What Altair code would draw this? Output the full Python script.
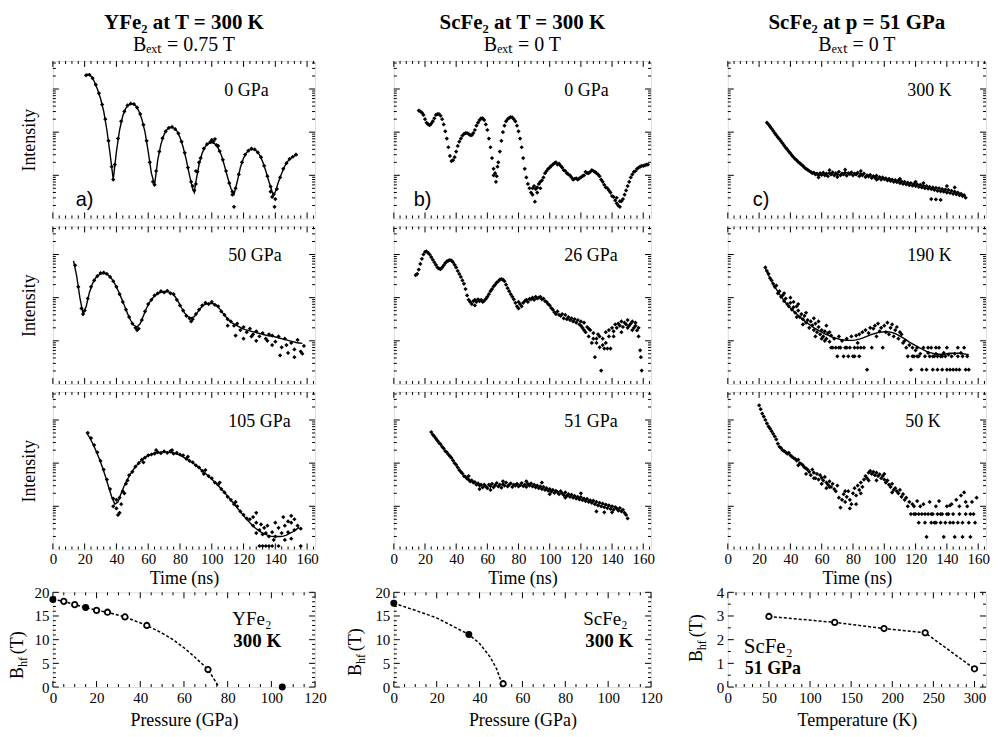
import math
import altair as alt
import pandas as pd

SERIF = "Liberation Serif"
TIMES = "Liberation Serif"
SANS = "Liberation Sans"

# ---------------- data: nuclear forward scattering spectra (log10 intensity, arb.) -------------
A0_DATA = [(21,3.32),(23,3.33),(25,3.25),(27,3.10),(29,2.90),(31,2.64),(33,2.30),(35,1.80),(37,1.20),(38,0.90),(39,1.25),
           (41,1.85),(43,2.25),(45,2.48),(47,2.62),(49,2.66),(51,2.65),(53,2.57),(55,2.42),(57,2.17),(59,1.80),(61,1.30),
           (63,0.85),(64,0.78),(65,1.10),(67,1.55),(69,1.86),(71,2.02),(73,2.10),(75,2.12),(77,2.07),(79,1.97),(81,1.78),
           (83,1.52),(85,1.18),(87,0.85),(89,0.65),(90,0.80),(91,1.08),(93,1.40),(95,1.62),(97,1.72),(99,1.77),(101,1.78),
           (103,1.70),(105,1.56),(107,1.36),(109,1.10),(111,0.82),(113,0.62),(114,0.27),(115,0.70),(117,1.02),(119,1.30),
           (121,1.48),(123,1.57),(125,1.62),(127,1.60),(129,1.53),(131,1.42),(133,1.22),(135,0.98),(137,0.74),(139,0.56),
           (139.5,0.27),(141,0.68),(143,0.95),(145,1.15),(147,1.28),(149,1.38),(151,1.43),(153,1.48),
           (100,1.82),(102,1.84),(104,1.68),(113,0.55),(138,0.50),(140,0.45),(137,0.62),(90,1.10),(92,1.30),(88,0.75)]
A0_FIT = [(20,3.30),(22,3.34),(24,3.30),(26,3.18),(28,3.00),(30,2.78),(32,2.48),(34,2.05),(36,1.50),(38,0.90),
          (40,1.55),(42,2.05),(44,2.38),(46,2.56),(48,2.64),(50,2.66),(52,2.62),(54,2.50),(56,2.30),(58,2.00),(60,1.55),
          (62,1.05),(64,0.78),(66,1.35),(68,1.72),(70,1.95),(72,2.07),(74,2.11),(76,2.10),(78,2.03),(80,1.88),(82,1.65),
          (84,1.35),(86,1.00),(88,0.68),(89,0.60),(90,0.85),(92,1.25),(94,1.52),(96,1.67),(98,1.74),(100,1.76),(102,1.73),
          (104,1.63),(106,1.47),(108,1.22),(110,0.95),(112,0.70),(114,0.56),(116,0.85),(118,1.18),(120,1.40),(122,1.53),
          (124,1.59),(126,1.60),(128,1.57),(130,1.48),(132,1.32),(134,1.10),(136,0.85),(138,0.62),(139,0.54),(140,0.62),
          (142,0.85),(144,1.05),(146,1.22),(148,1.33),(150,1.40),(152,1.45),(154,1.47)]

A50_DATA = [(14,2.75),(16,2.25),(18,1.75),(20,1.70),(22,1.98),(24,2.25),(26,2.40),(28,2.50),(30,2.57),(32,2.58),(34,2.55),
            (36,2.48),(38,2.38),(40,2.25),(42,2.08),(44,1.90),(46,1.72),(48,1.55),(50,1.40),(52,1.30),(54,1.28),(56,1.48),
            (58,1.68),(60,1.85),(62,1.95),(64,2.05),(66,2.10),(68,2.15),(70,2.12),(72,2.16),(74,2.10),(76,2.08),(78,1.95),
            (80,1.82),(82,1.70),(84,1.58),(86,1.52),(88,1.50),(90,1.62),(92,1.72),(94,1.82),(96,1.88),(98,1.85),(100,1.90),
            (102,1.83),(104,1.80),(106,1.68),(108,1.60),(110,1.50),(112,1.45),(114,1.35),(116,1.40),(118,1.25),(120,1.32),
            (122,1.20),(124,1.28),(126,1.15),(128,1.22),(130,1.10),(132,1.18),(134,1.05),(136,1.15),(138,1.12),(140,0.98),
            (142,1.10),(144,0.85),(146,1.05),(148,0.72),(150,0.95),(152,0.80),(154,1.02),(156,0.75),(158,0.88),
            (115,1.12),(120,1.05),(128,1.00),(138,0.90),(143,0.66),(152,0.62),(157,0.70),(110,1.35),(125,1.10),(135,1.00),
            (147,0.90),(19,1.62),(53,1.25),(87,1.45)]
A50_FIT = [(13,2.85),(15,2.50),(17,2.00),(19,1.62),(21,1.80),(23,2.12),(25,2.33),(27,2.46),(29,2.53),(31,2.56),(33,2.56),
           (35,2.52),(37,2.44),(39,2.32),(41,2.17),(43,2.00),(45,1.82),(47,1.63),(49,1.47),(51,1.36),(53,1.32),(55,1.40),
           (57,1.58),(59,1.76),(61,1.90),(63,2.00),(65,2.07),(67,2.11),(69,2.13),(71,2.14),(73,2.13),(75,2.10),(77,2.02),
           (79,1.90),(81,1.76),(83,1.64),(85,1.56),(87,1.53),(89,1.56),(91,1.66),(93,1.76),(95,1.83),(97,1.86),(99,1.87),
           (101,1.86),(103,1.82),(105,1.74),(107,1.64),(109,1.55),(111,1.47),(113,1.41),(115,1.37),(117,1.33),(119,1.29),
           (121,1.26),(123,1.24),(125,1.22),(127,1.20),(129,1.18),(131,1.16),(133,1.14),(135,1.12),(137,1.11),(139,1.10),
           (141,1.08),(143,1.06),(145,1.04),(147,1.02),(149,1.00),(151,0.98),(153,0.96),(155,0.95),(157,0.94)]

A105_DATA = [(22,2.70),(24,2.58),(26,2.42),(28,2.25),(30,2.05),(32,1.85),(34,1.62),(36,1.40),(38,1.18),(40,0.95),(42,0.85),
             (44,1.35),(46,1.52),(48,1.72),(50,1.80),(52,1.92),(54,2.00),(56,2.08),(58,2.13),(60,2.18),(62,2.20),(64,2.22),
             (66,2.25),(68,2.23),(70,2.27),(72,2.24),(74,2.28),(76,2.22),(78,2.24),(80,2.20),(82,2.18),(84,2.10),(86,2.05),
             (88,2.02),(90,1.95),(92,1.90),(94,1.82),(96,1.84),(98,1.70),(100,1.65),(102,1.55),(104,1.50),(106,1.40),
             (108,1.32),(110,1.22),(112,1.15),(114,1.05),(116,1.00),(118,0.88),(120,0.80),(122,0.72),(124,0.70),(126,0.55),
             (128,0.62),(130,0.45),(132,0.35),(134,0.38),(136,0.30),(138,0.40),(140,0.30),(142,0.50),(144,0.38),(146,0.55),
             (148,0.40),(150,0.62),(152,0.45),(154,0.55),(156,0.48),
             (40,1.15),(38,1.00),(41,0.80),(43,1.05),(45,1.30),(42,1.20),(130,0.08),(132,0.08),(134,0.08),(136,0.08),
             (138,0.08),(142,0.08),(156,0.08),(135,0.55),(140,0.62),(145,0.75),(148,0.65),(150,0.78),(152,0.70),(128,0.38),
             (131,0.58),(133,0.50),(139,0.22),(146,0.22),(150,0.25),(128,0.85),(126,0.75),(65,2.30),(75,2.30),(85,2.15),
             (95,1.75),(105,1.55),(115,1.10),(57,2.02),(47,1.60)]
A105_FIT = [(21,2.72),(23,2.60),(25,2.46),(27,2.30),(29,2.12),(31,1.92),(33,1.70),(35,1.46),(37,1.22),(39,1.05),(41,1.10),
            (43,1.30),(45,1.48),(47,1.63),(49,1.76),(51,1.87),(53,1.96),(55,2.04),(57,2.10),(59,2.15),(61,2.19),(63,2.22),
            (65,2.24),(67,2.25),(69,2.26),(71,2.26),(73,2.25),(75,2.24),(77,2.22),(79,2.20),(81,2.16),(83,2.12),(85,2.08),
            (87,2.03),(89,1.98),(91,1.92),(93,1.86),(95,1.80),(97,1.73),(99,1.66),(101,1.59),(103,1.52),(105,1.44),
            (107,1.36),(109,1.28),(111,1.19),(113,1.10),(115,1.01),(117,0.92),(119,0.83),(121,0.74),(123,0.66),(125,0.58),
            (127,0.51),(129,0.45),(131,0.40),(133,0.36),(135,0.33),(137,0.31),(139,0.30),(141,0.30),(143,0.30),(145,0.31),
            (147,0.33),(149,0.37),(151,0.41),(153,0.46),(155,0.51)]

B0_DATA = [(16,2.50),(17,2.48),(18,2.45),(19,2.40),(20,2.30),(21,2.22),(22,2.18),(23,2.16),(24,2.20),(25,2.25),(26,2.32),
           (27,2.40),(28,2.42),(29,2.42),(30,2.38),(31,2.30),(32,2.18),(33,2.02),(34,1.85),(35,1.65),(36,1.45),(37,1.33),
           (38,1.35),(39,1.42),(40,1.55),(41,1.68),(42,1.78),(43,1.85),(44,1.92),(45,1.96),(46,1.98),(47,1.98),(48,1.96),
           (49,1.93),(50,1.93),(51,1.98),(52,2.05),(53,2.15),(54,2.22),(55,2.28),(56,2.32),(57,2.32),(58,2.28),(59,2.18),
           (60,2.05),(61,1.85),(62,1.65),(63,1.40),(64,1.15),(65,1.05),(65.5,0.85),(66,0.98),(66.5,1.20),(67,1.30),
           (68,1.55),(69,1.80),(70,2.00),(71,2.15),(72,2.25),(73,2.30),(74,2.33),(75,2.35),(76,2.34),(77,2.30),(78,2.25),
           (79,2.15),(80,2.02),(81,1.85),(82,1.65),(83,1.40),(84,1.15),(85,0.95),(86,0.80),(87,0.70),(88,0.60),(89,0.55),
           (90,0.75),(90.5,0.39),(91,0.68),(92,0.72),(93,0.80),(94,0.85),(95,0.88),(96,0.95),(97,1.05),(98,1.10),(99,1.15),
           (100,1.18),(101,1.22),(102,1.25),(103,1.28),(104,1.30),(105,1.25),(106,1.27),(107,1.22),(108,1.18),(109,1.12),
           (110,1.10),(111,1.05),(112,1.02),(113,1.00),(114,0.95),(115,0.90),(116,0.92),(117,0.93),(118,0.90),(119,0.93),
           (120,0.95),(121,0.98),(122,1.00),(123,1.08),(124,1.05),(125,1.05),(126,1.08),(127,1.12),(128,1.10),(129,1.08),
           (130,1.05),(131,1.02),(132,0.98),(133,0.90),(134,0.85),(135,0.78),(136,0.72),(137,0.70),(138,0.65),(139,0.60),
           (140,0.52),(141,0.50),(142,0.42),(143,0.35),(144,0.30),(145,0.27),(146,0.40),(147,0.45),(148,0.55),(149,0.65),
           (150,0.75),(151,0.85),(152,0.95),(153,1.02),(154,1.08),(155,1.10),(156,1.15),(157,1.18),(158,1.20),(159,1.22),
           (160,1.22),(161,1.23),(162,1.25),(163,1.25),(89,0.70),(92,0.60),(94,0.70),(143,0.48),(145,0.40),(64,1.00)]

B26_DATA = [(14,2.52),(15,2.55),(16,2.65),(17,2.78),(18,2.90),(19,3.00),(20,3.06),(21,3.07),(22,3.04),(23,3.00),(24,2.94),
            (25,2.88),(26,2.82),(27,2.76),(28,2.70),(29,2.67),(30,2.66),(31,2.70),(32,2.75),(33,2.80),(34,2.84),(35,2.86),
            (36,2.87),(37,2.86),(38,2.82),(39,2.76),(40,2.70),(41,2.62),(42,2.55),(43,2.48),(44,2.40),(45,2.32),(46,2.20),
            (47,2.05),(48,1.95),(49,1.90),(50,1.85),(51,1.92),(52,1.95),(53,1.90),(54,1.96),(55,1.92),(56,1.95),(57,1.90),
            (58,1.93),(59,1.97),(60,2.02),(61,2.08),(62,2.15),(63,2.20),(64,2.26),(65,2.30),(66,2.35),(67,2.38),(68,2.42),
            (69,2.43),(70,2.42),(71,2.38),(72,2.30),(73,2.22),(74,2.15),(75,2.08),(76,2.02),(77,1.96),(78,1.88),(79,1.80),
            (80,1.75),(81,1.85),(82,1.80),(83,1.88),(84,1.92),(85,1.95),(86,1.90),(87,1.97),(88,1.96),(89,2.00),(90,1.95),
            (91,2.02),(92,1.98),(93,2.00),(94,2.02),(95,1.96),(96,1.98),(97,1.92),(98,1.90),(99,1.85),(100,1.82),(101,1.76),
            (102,1.72),(103,1.66),(104,1.62),(105,1.68),(106,1.60),(107,1.58),(108,1.62),(109,1.52),(110,1.60),(111,1.50),
            (112,1.55),(113,1.48),(114,1.52),(115,1.45),(116,1.50),(117,1.42),(118,1.48),(119,1.38),(120,1.45),(121,1.30),
            (122,1.42),(123,1.20),(124,1.32),(125,1.10),(126,1.25),(127,0.95),(128,1.18),(129,0.62),(130,1.05),(131,1.15),
            (132,0.85),(133,0.31),(134,1.05),(135,0.82),(136,1.20),(137,0.82),(138,1.25),(139,0.82),(140,1.30),(141,1.22),
            (142,1.38),(143,1.30),(144,1.40),(145,1.35),(146,1.45),(147,1.32),(148,1.42),(149,1.38),(150,1.48),(151,1.35),
            (152,1.40),(153,1.45),(154,1.30),(155,1.42),(156,1.24),(157,1.10),(158,0.78),(158.5,0.62),(159,0.31),
            (128,1.05),(130,0.95),(132,1.10),(134,0.90),(136,0.95),(125,1.28),(122,1.25),(120,1.35),(138,1.10),(141,1.10),
            (146,1.20),(150,1.30),(153,1.25),(155,1.35),(157,1.30),(52,1.82),(80,1.90)]

B51_DATA = [(24,2.72),(25,2.66),(26,2.62),(27,2.57),(28,2.52),(29,2.47),(30,2.44),(31,2.38),(32,2.34),(33,2.28),(34,2.25),
            (35,2.20),(36,2.16),(37,2.12),(38,2.06),(39,2.00),(40,1.96),(41,1.90),(42,1.84),(43,1.80),(44,1.76),(45,1.70),
            (46,1.68),(47,1.64),(48,1.62),(49,1.58),(50,1.60),(51,1.55),(52,1.56),(53,1.50),(54,1.53),(55,1.48),(56,1.50),
            (57,1.44),(58,1.50),(59,1.46),(60,1.42),(61,1.50),(62,1.47),(63,1.52),(64,1.44),(65,1.49),(66,1.54),(67,1.46),
            (68,1.50),(69,1.43),(70,1.51),(71,1.48),(72,1.55),(73,1.46),(74,1.50),(75,1.53),(76,1.45),(77,1.50),(78,1.48),
            (79,1.52),(80,1.46),(81,1.49),(82,1.54),(83,1.47),(84,1.50),(85,1.45),(86,1.52),(87,1.48),(88,1.53),(89,1.46),
            (90,1.50),(91,1.44),(92,1.48),(93,1.42),(94,1.46),(95,1.40),(96,1.45),(97,1.38),(98,1.42),(99,1.36),(100,1.40),
            (101,1.34),(102,1.38),(103,1.31),(104,1.36),(105,1.33),(106,1.28),(107,1.35),(108,1.30),(109,1.26),(110,1.32),
            (111,1.24),(112,1.28),(113,1.22),(114,1.27),(115,1.20),(116,1.24),(117,1.18),(118,1.22),(119,1.16),(120,1.21),
            (121,1.14),(122,1.18),(123,1.12),(124,1.17),(125,1.10),(126,1.14),(127,1.08),(128,1.13),(129,1.05),(130,1.10),
            (131,1.02),(132,1.08),(133,1.00),(134,1.06),(135,0.98),(136,1.04),(137,0.96),(138,1.02),(139,0.94),(140,1.00),
            (141,0.92),(142,0.98),(143,0.95),(144,0.90),(145,0.96),(146,0.88),(147,0.92),(148,0.85),(149,0.80),(150,0.72),
            (70,1.58),(85,1.58),(95,1.55),(120,1.30),(130,0.88),(135,0.86),(140,0.86),(48,1.70),(55,1.40),(62,1.38),
            (100,1.28),(110,1.20)]

C300_DATA = [(25,2.22),(26,2.18),(27,2.13),(28,2.08),(29,2.03),(30,1.98),(31,1.93),(32,1.88),(33,1.84),(34,1.79),(35,1.74),
             (36,1.69),(37,1.64),(38,1.60),(39,1.55),(40,1.51),(41,1.46),(42,1.42),(43,1.38),(44,1.35),(45,1.31),(46,1.28),
             (47,1.25),(48,1.22),(49,1.18),(50,1.15),(51,1.13),(52,1.10),(53,1.08),(54,1.05),(55,1.06),(56,1.02),(57,1.04),
             (58,1.00),(59,1.05),(60,1.01),(61,1.06),(62,1.00),(63,1.04),(64,0.98),(65,1.05),(66,1.02),(67,1.07),(68,1.00),
             (69,1.05),(70,1.02),(71,1.08),(72,1.00),(73,1.04),(74,1.02),(75,1.06),(76,0.99),(77,1.05),(78,1.03),(79,1.07),
             (80,1.00),(81,1.04),(82,1.02),(83,1.06),(84,0.98),(85,1.03),(86,1.00),(87,1.04),(88,0.96),(89,1.00),(90,0.97),
             (91,1.01),(92,0.94),(93,0.98),(94,0.95),(95,0.99),(96,0.92),(97,0.96),(98,0.90),(99,0.95),(100,0.91),(101,0.93),
             (102,0.88),(103,0.92),(104,0.87),(105,0.90),(106,0.85),(107,0.89),(108,0.84),(109,0.88),(110,0.82),(111,0.86),
             (112,0.80),(113,0.85),(114,0.79),(115,0.83),(116,0.77),(117,0.82),(118,0.76),(119,0.80),(120,0.75),(121,0.79),
             (122,0.73),(123,0.78),(124,0.72),(125,0.76),(126,0.70),(127,0.75),(128,0.69),(129,0.73),(130,0.68),(131,0.72),
             (132,0.66),(133,0.71),(134,0.64),(135,0.70),(136,0.63),(137,0.68),(138,0.62),(139,0.67),(140,0.60),(141,0.66),
             (142,0.59),(143,0.64),(144,0.57),(145,0.62),(146,0.56),(147,0.60),(148,0.54),(149,0.57),(150,0.52),(151,0.54),
             (152,0.48),(125,0.82),(120,0.85),(130,0.45),(133,0.44),(136,0.43),(145,0.72),(140,0.75),(65,1.12),(75,1.13),
             (85,1.10),(110,0.92),(58,0.95),(70,0.96),(95,0.90)]

C190_DATA = [(24,2.70),(25,2.62),(26,2.55),(27,2.45),(28,2.40),(29,2.32),(30,2.25),(31,2.28),(32,2.10),(33,2.15),(34,2.02),
             (35,2.05),(36,1.92),(37,1.98),(38,1.85),(39,1.80),(40,1.88),(41,1.72),(42,1.78),(43,1.65),(44,1.80),(45,1.70),
             (46,1.55),(47,1.62),(48,1.50),(49,1.58),(50,1.42),(51,1.48),(52,1.30),(53,1.45),(54,1.36),(55,1.25),(56,1.40),
             (57,1.20),(58,1.32),(59,1.15),(60,1.25),(61,1.10),(62,1.22),(63,1.05),(64,1.18),(65,0.98),(66,1.12),(67,0.84),
             (68,1.05),(69,0.84),(70,0.64),(71,1.10),(72,0.84),(73,1.00),(74,0.64),(75,0.84),(76,1.05),(77,0.64),(78,0.84),
             (79,1.10),(80,0.64),(81,0.84),(82,1.12),(83,0.95),(84,1.15),(85,0.84),(86,1.20),(87,0.84),(88,1.25),(89,0.33),
             (90,1.18),(91,1.30),(92,0.84),(93,1.28),(94,1.35),(95,1.10),(96,1.40),(97,1.22),(98,1.30),(99,0.84),(100,1.35),
             (101,1.20),(102,1.42),(103,1.15),(104,1.30),(105,1.38),(106,1.10),(107,1.25),(108,1.32),(109,1.05),(110,1.20),
             (111,1.15),(112,0.95),(113,1.00),(114,0.84),(115,0.64),(116,0.90),(117,0.33),(118,0.84),(119,0.64),(120,0.78),
             (121,0.84),(122,0.64),(123,0.70),(124,0.33),(125,0.84),(126,0.64),(127,0.33),(128,0.72),(129,0.64),(130,0.84),
             (131,0.33),(132,0.64),(133,0.70),(134,0.33),(135,0.84),(136,0.64),(137,0.33),(138,0.72),(139,0.64),(140,0.33),
             (141,0.68),(142,0.33),(143,0.64),(144,0.33),(145,0.70),(146,0.33),(147,0.64),(148,0.33),(149,0.72),(150,0.64),
             (151,0.84),(152,0.33),(153,0.64),(154,0.33),
             (40,2.00),(45,1.85),(50,1.65),(55,1.52),(58,1.45),(63,1.35),(48,1.38),(60,1.05),(65,1.20),(56,1.10),(44,1.55),
             (36,2.10),(42,1.90),(62,1.00),(66,0.84),(71,0.84),(76,0.84),(81,0.64),(84,0.64),(83,0.84),(118,0.64),
             (121,0.64),(134,0.64),(137,0.64),(131,0.64),(128,0.84),(133,0.84),(147,0.84),(140,0.84)]
C190_FIT = [(24,2.68),(26,2.52),(28,2.38),(30,2.25),(32,2.14),(34,2.03),(36,1.93),(38,1.84),(40,1.76),(42,1.69),(44,1.62),
            (46,1.55),(48,1.49),(50,1.43),(52,1.38),(54,1.33),(56,1.28),(58,1.24),(60,1.20),(62,1.16),(64,1.13),(66,1.10),
            (68,1.07),(70,1.05),(72,1.03),(74,1.02),(76,1.01),(78,1.01),(80,1.01),(82,1.02),(84,1.04),(86,1.06),(88,1.09),
            (90,1.12),(92,1.15),(94,1.17),(96,1.19),(98,1.20),(100,1.21),(102,1.21),(104,1.20),(106,1.18),(108,1.15),
            (110,1.11),(112,1.07),(114,1.02),(116,0.97),(118,0.93),(120,0.89),(122,0.85),(124,0.81),(126,0.77),(128,0.74),
            (130,0.72),(132,0.70),(134,0.69),(136,0.69),(138,0.69),(140,0.70),(142,0.71),(144,0.71),(146,0.71),(148,0.71),
            (150,0.70),(152,0.69),(154,0.68)]

C50_DATA = [(20,3.34),(21,3.25),(22,3.15),(23,3.08),(24,3.00),(25,2.92),(26,2.85),(27,2.80),(28,2.74),(29,2.68),(30,2.62),
            (31,2.55),(32,2.45),(33,2.38),(34,2.35),(35,2.30),(36,2.28),(37,2.25),(38,2.22),(39,2.24),(40,2.18),(41,2.15),
            (42,2.12),(43,2.10),(44,2.06),(45,2.08),(46,2.00),(47,1.98),(48,1.95),(49,1.90),(50,1.88),(51,1.85),(52,1.80),
            (53,1.72),(54,1.85),(55,1.78),(56,1.65),(57,1.75),(58,1.62),(59,1.72),(60,1.66),(61,1.60),(62,1.68),(63,1.55),
            (64,1.50),(65,1.58),(66,1.45),(67,1.52),(68,1.40),(69,1.35),(70,1.48),(71,1.20),(72,0.97),(73,1.15),(74,1.28),
            (75,1.10),(76,1.22),(77,1.35),(78,1.15),(79,1.05),(80,1.30),(81,1.42),(82,1.25),(83,1.48),(84,1.38),(85,1.55),
            (86,1.45),(87,1.62),(88,1.70),(89,1.65),(90,1.78),(91,1.82),(92,1.75),(93,1.80),(94,1.72),(95,1.78),(96,1.70),
            (97,1.74),(98,1.65),(99,1.70),(100,1.62),(101,1.55),(102,1.60),(103,1.50),(104,1.45),(105,1.52),(106,1.38),
            (107,1.42),(108,1.35),(109,1.30),(110,1.38),(111,1.22),(112,1.28),(113,1.15),(114,1.20),(115,1.00),(116,1.10),
            (117,0.82),(118,1.05),(119,1.00),(120,0.82),(121,1.12),(122,0.82),(123,1.00),(124,0.82),(125,1.05),(126,0.62),
            (127,0.29),(128,0.82),(129,1.10),(130,0.62),(131,0.82),(132,0.62),(133,1.00),(134,0.82),(135,1.12),(136,0.62),
            (137,0.82),(138,0.29),(139,0.62),(140,1.00),(141,0.82),(142,0.62),(143,1.05),(144,0.82),(145,0.29),(146,1.15),
            (147,0.62),(148,0.82),(149,1.25),(150,0.29),(151,1.32),(152,0.82),(153,1.00),(154,0.62),(155,0.29),(156,1.10),
            (157,0.82),(158,0.62),(159,1.20),
            (90,1.60),(95,1.60),(100,1.75),(105,1.32),(85,1.30),(75,1.35),(78,0.95),(82,1.05),(65,1.45),(63,1.42),(60,1.52),
            (55,1.65),(50,1.75),(45,1.95),(130,0.82),(136,0.82),(140,0.82),(126,0.82),(119,0.82),(122,0.62),(133,0.62),
            (144,0.62),(150,0.62),(155,0.82),(142,1.02),(148,1.00),(152,1.10)]

# ---------------- data: hyperfine field summaries -------------
YFE_P = [0, 5, 10, 15, 20, 25, 33, 43, 71, 105]
YFE_B = [18.5, 18.1, 17.4, 16.8, 16.2, 15.8, 14.8, 13.0, 3.7, 0.0]
YFE_FILLED = [True, False, False, True, False, False, False, False, False, True]
YFE_LINE_P = [0, 5, 10, 15, 20, 25, 33, 43, 50, 55, 60, 65, 71, 76]
YFE_LINE_B = [18.5, 18.1, 17.4, 16.8, 16.2, 15.8, 14.8, 13.0, 11.4, 10.0, 8.3, 6.3, 3.7, 0.0]

SCFE_P = [0, 35, 51]
SCFE_B = [17.7, 11.1, 0.7]
SCFE_FILLED = [True, True, False]
SCFE_LINE_P = [0, 10, 20, 35, 40, 45, 48, 51]
SCFE_LINE_B = [17.7, 16.2, 14.6, 11.1, 9.2, 6.3, 3.8, 0.0]

SC51_T = [50, 130, 190, 240, 300]
SC51_B = [2.98, 2.73, 2.47, 2.29, 0.77]

TIME_TICKS = [0, 20, 40, 60, 80, 100, 120, 140, 160]
H_SPEC = 158
H_BOT = 95


def tick_frame(xdom, ydom, w, h, xmaj, xmin, ymaj, ymin, lmaj=6, lmin=3):
    rows = []
    dx = (xdom[1] - xdom[0]) / w
    dy = (ydom[1] - ydom[0]) / h
    for vals, L in ((xmaj, lmaj), (xmin, lmin)):
        for v in vals:
            rows.append(dict(x=v, x2=v, y=ydom[0], y2=ydom[0] + L * dy))
            rows.append(dict(x=v, x2=v, y=ydom[1], y2=ydom[1] - L * dy))
    for vals, L in ((ymaj, lmaj), (ymin, lmin)):
        for v in vals:
            rows.append(dict(x=xdom[0], x2=xdom[0] + L * dx, y=v, y2=v))
            rows.append(dict(x=xdom[1], x2=xdom[1] - L * dx, y=v, y2=v))
    return pd.DataFrame(rows)


def rule_layer(df, xs, ys, xaxis, yaxis):
    return alt.Chart(df).mark_rule(color="black", strokeWidth=1).encode(
        x=alt.X("x:Q", scale=xs, axis=xaxis), x2="x2:Q",
        y=alt.Y("y:Q", scale=ys, axis=yaxis), y2="y2:Q")


def text_layer(s, x, y, font=SERIF, size=16, weight="normal", align="left", angle=0):
    return alt.Chart(pd.DataFrame({"s": [s]})).mark_text(
        font=font, fontSize=size, fontWeight=weight, align=align, baseline="middle",
        color="black", angle=angle).encode(text="s:N", x=alt.value(x), y=alt.value(y))


def spectrum(data, fit, label, label_x, w, letter=None, letter_x=22, show_x=False, show_ytitle=False, title=None):
    xdom, ydom = [0, 165], [0, 3.65]
    xs = alt.Scale(domain=xdom, nice=False, zero=False)
    ys = alt.Scale(domain=ydom, nice=False, zero=False)
    xaxis = None
    if show_x:
        xaxis = alt.Axis(values=TIME_TICKS, title="Time (ns)", ticks=False, domain=False, grid=False,
                         labelFont=SERIF, labelFontSize=15, labelColor="black", labelPadding=2,
                         labelFlush=False, labelOverlap=False, titleFont=SERIF, titleFontSize=18,
                         titleFontWeight="normal", titleColor="black", titlePadding=3)
    yaxis = None
    if show_ytitle:
        yaxis = alt.Axis(title="Intensity", labels=False, ticks=False, domain=False, grid=False,
                         titleFont=SERIF, titleFontSize=18, titleFontWeight="normal", titleColor="black",
                         titlePadding=14)
    df = pd.DataFrame(data, columns=["t", "v"])
    layers = [alt.Chart(df).mark_point(shape="diamond", filled=True, size=18, color="black", opacity=1).encode(
        x=alt.X("t:Q", scale=xs, axis=xaxis), y=alt.Y("v:Q", scale=ys, axis=yaxis))]
    if fit is not None:
        fdf = pd.DataFrame(fit, columns=["t", "v"])
        layers.append(alt.Chart(fdf).mark_line(color="black", strokeWidth=1.4).encode(
            x=alt.X("t:Q", scale=xs, axis=xaxis), y=alt.Y("v:Q", scale=ys, axis=yaxis)))
    ymaj = [1, 2, 3]
    ymin = [d + math.log10(k) for d in range(0, 4) for k in range(2, 10) if d + math.log10(k) < ydom[1]]
    xmin = [v for v in range(0, 165, 4) if v % 20 != 0]
    layers.append(rule_layer(tick_frame(xdom, ydom, w, H_SPEC, TIME_TICKS, xmin, ymaj, ymin), xs, ys, xaxis, yaxis))
    layers.append(text_layer(label, label_x, 30, size=18))
    if letter:
        layers.append(text_layer(letter, letter_x, H_SPEC - 18, font=SANS, size=20))
    ch = alt.layer(*layers).properties(width=w, height=H_SPEC)
    if title:
        ch = ch.properties(title=alt.TitleParams(
            text=title[0], subtitle=title[1], font=TIMES, fontSize=21, fontWeight="bold", color="black",
            subtitleFont=TIMES, subtitleFontSize=20, subtitleFontWeight="normal", subtitleColor="black",
            anchor="middle", frame="group", offset=5, subtitlePadding=3))
    return ch


def summary(xv, yv, filled, lx, ly, xdom, ydom, xticks, xmin, yticks, ymin, xtitle, w, notes, bx, by0):
    xs = alt.Scale(domain=xdom, nice=False, zero=False)
    ys = alt.Scale(domain=ydom, nice=False, zero=False)
    xaxis = alt.Axis(values=xticks, title=xtitle, ticks=False, domain=False, grid=False,
                     labelFont=SERIF, labelFontSize=15, labelColor="black", labelPadding=4,
                     labelFlush=False, labelOverlap=False, titleFont=SERIF, titleFontSize=18,
                     titleFontWeight="normal", titleColor="black", titlePadding=6)
    yaxis = alt.Axis(values=yticks, title=None, ticks=False, domain=False, grid=False,
                     labelFont=SERIF, labelFontSize=15, labelColor="black", labelPadding=4,
                     labelFlush=False, labelOverlap=False)
    line = alt.Chart(pd.DataFrame({"x": lx, "y": ly})).mark_line(
        color="black", strokeWidth=1.5, strokeDash=[3, 2]).encode(
        x=alt.X("x:Q", scale=xs, axis=xaxis), y=alt.Y("y:Q", scale=ys, axis=yaxis))
    pdf = pd.DataFrame({"x": xv, "y": yv, "f": filled})
    open_pts = alt.Chart(pdf[~pdf["f"]]).mark_point(
        shape="circle", size=30, filled=True, fill="white", stroke="black", strokeWidth=1.8, opacity=1).encode(
        x=alt.X("x:Q", scale=xs, axis=xaxis), y=alt.Y("y:Q", scale=ys, axis=yaxis))
    layers = [line, open_pts]
    if pdf["f"].any():
        layers.append(alt.Chart(pdf[pdf["f"]]).mark_point(
            shape="circle", size=30, filled=True, fill="black", stroke="black", strokeWidth=1.5, opacity=1).encode(
            x=alt.X("x:Q", scale=xs, axis=xaxis), y=alt.Y("y:Q", scale=ys, axis=yaxis)))
    layers.append(rule_layer(tick_frame(xdom, ydom, w, H_BOT, xticks, xmin, yticks, ymin, 6, 3), xs, ys, xaxis, yaxis))
    for (s, x, y, font, size, weight) in notes:
        layers.append(text_layer(s, x, y, font=font, size=size, weight=weight))
    # y title B_hf (T) with a real subscript
    layers.append(text_layer("B", bx, by0, size=18, angle=270))
    layers.append(text_layer("hf", bx + 5, by0 - 12, size=12, angle=270))
    layers.append(text_layer("(T)", bx, by0 - 25, size=18, angle=270))
    return alt.layer(*layers).properties(width=w, height=H_BOT)


W1, W2, W3 = 263, 258, 259

col1 = alt.vconcat(
    alt.vconcat(
        spectrum(A0_DATA, A0_FIT, "0 GPa", 172, W1, "a)", 23, show_ytitle=True,
                 title=("YFe\u2082 at T = 300 K", "B\u2091\u2093\u209c = 0.75 T")),
        spectrum(A50_DATA, A50_FIT, "50 GPa", 176, W1, show_ytitle=True),
        spectrum(A105_DATA, A105_FIT, "105 GPa", 176, W1, show_x=True, show_ytitle=True),
        spacing=6),
    summary(YFE_P, YFE_B, YFE_FILLED, YFE_LINE_P, YFE_LINE_B, [0, 120], [0, 20],
            [0, 20, 40, 60, 80, 100, 120], [v for v in range(0, 121, 5) if v % 20 != 0],
            [0, 5, 10, 15, 20], [v for v in range(0, 21) if v % 5 != 0], "Pressure (GPa)", W1,
            [("YFe\u2082", 180, 27, SERIF, 19, "normal"), ("300 K", 181, 49, TIMES, 19, "bold")], -35, 87),
    spacing=-4)

col2 = alt.vconcat(
    alt.vconcat(
        spectrum(B0_DATA, None, "0 GPa", 171, W2, "b)", 20,
                 title=("ScFe\u2082 at T = 300 K", "B\u2091\u2093\u209c = 0 T")),
        spectrum(B26_DATA, None, "26 GPa", 171, W2),
        spectrum(B51_DATA, None, "51 GPa", 171, W2, show_x=True),
        spacing=6),
    summary(SCFE_P, SCFE_B, SCFE_FILLED, SCFE_LINE_P, SCFE_LINE_B, [0, 120], [0, 20],
            [0, 20, 40, 60, 80, 100, 120], [v for v in range(0, 121, 5) if v % 20 != 0],
            [0, 5, 10, 15, 20], [v for v in range(0, 21) if v % 5 != 0], "Pressure (GPa)", W2,
            [("ScFe\u2082", 190, 27, SERIF, 19, "normal"), ("300 K", 192, 49, TIMES, 19, "bold")], -38, 84),
    spacing=-4)

col3 = alt.vconcat(
    alt.vconcat(
        spectrum(C300_DATA, None, "300 K", 180, W3, "c)", 25,
                 title=("ScFe\u2082 at p = 51 GPa", "B\u2091\u2093\u209c = 0 T")),
        spectrum(C190_DATA, C190_FIT, "190 K", 180, W3),
        spectrum(C50_DATA, None, "50 K", 178, W3, show_x=True),
        spacing=6),
    summary(SC51_T, SC51_B, [False] * 5, SC51_T, SC51_B, [0, 314], [0, 4],
            [0, 50, 100, 150, 200, 250, 300], [v for v in range(0, 314, 10) if v % 50 != 0],
            [0, 1, 2, 3, 4], [0.5, 1.5, 2.5, 3.5], "Temperature (K)", W3,
            [("ScFe\u2082", 16, 55, SERIF, 21, "normal"), ("51 GPa", 17, 77, TIMES, 18, "bold")], -31, 70),
    spacing=-4)

chart = alt.hconcat(alt.hconcat(col1, col2, spacing=19), col3, spacing=24).properties(
    padding={"left": 0, "top": 2, "right": 0, "bottom": 0}
).configure_view(stroke="black", strokeWidth=1.6).configure(background="white")

chart.save("out.html", embed_options={"renderer": "svg", "actions": False})
